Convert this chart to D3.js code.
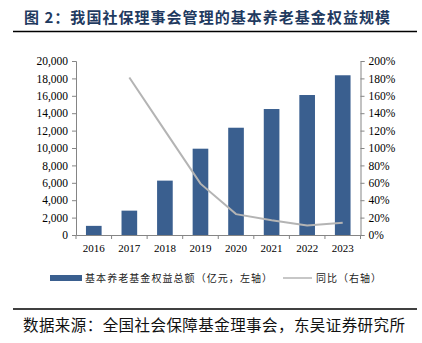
<!DOCTYPE html>
<html>
<head>
<meta charset="utf-8">
<script src="https://cdn.jsdelivr.net/npm/d3@7"></script>
<style>
  html, body { margin: 0; padding: 0; background: #fff; }
  svg { display: block; }
</style>
</head>
<body>
<svg id="chart" width="422" height="343"></svg>
<script>
// Basic pension fund equity managed by the NCSSF (100 million yuan) and YoY growth
const years = ["2016", "2017", "2018", "2019", "2020", "2021", "2022", "2023"];
const equity = [1050, 2800, 6250, 9920, 12330, 14480, 16090, 18360];
const yoyYears = ["2017", "2018", "2019", "2020", "2021", "2022", "2023"];
const yoy = [181, 120, 59, 24, 17, 11, 14];
const leftTicks = [0, 2000, 4000, 6000, 8000, 10000, 12000, 14000, 16000, 18000, 20000];
const rightTicks = [0, 20, 40, 60, 80, 100, 120, 140, 160, 180, 200];

const svg = d3.select("#chart");
const serif = "'Liberation Serif', 'DejaVu Serif', serif";
const cjk = "'Noto Sans CJK SC', sans-serif";
const axisColor = "#858585";
const barColor = "#3A5F8F";
const lineColor = "#B4B4B4";

const plot = { left: 76, right: 360.5, top: 61, bottom: 235 };

const x = d3.scaleBand().domain(years).range([plot.left, plot.right]).paddingInner(0.56).paddingOuter(0.28);
const yL = d3.scaleLinear().domain([0, 20000]).range([plot.bottom, plot.top]);
const yR = d3.scaleLinear().domain([0, 200]).range([plot.bottom, plot.top]);

// Title
svg.append("text")
  .attr("x", 24).attr("y", 23)
  .attr("font-family", cjk).attr("font-weight", "bold")
  .attr("font-size", 15).attr("fill", "#1F3A5F")
  .attr("textLength", 366).attr("lengthAdjust", "spacing")
  .text("图 2：我国社保理事会管理的基本养老基金权益规模");
svg.append("line").attr("x1", 13).attr("x2", 417).attr("y1", 31.5).attr("y2", 31.5)
  .attr("stroke", "#000").attr("stroke-width", 1.5);

// Bars
svg.append("g").selectAll("rect").data(years).join("rect")
  .attr("x", d => x(d))
  .attr("width", x.bandwidth())
  .attr("y", (d, i) => yL(equity[i]))
  .attr("height", (d, i) => yL(0) - yL(equity[i]))
  .attr("fill", barColor);

// YoY line
const line = d3.line()
  .x((d, i) => x(yoyYears[i]) + x.bandwidth() / 2)
  .y(d => yR(d));
svg.append("path").datum(yoy)
  .attr("d", line)
  .attr("fill", "none").attr("stroke", lineColor).attr("stroke-width", 2);

// Axes
function styleAxis(g) {
  g.selectAll(".domain").attr("stroke", axisColor);
  g.selectAll(".tick line").attr("stroke", axisColor);
  g.selectAll(".tick text").attr("font-family", serif).attr("fill", "#000");
}

const fmt = d3.format(",");
svg.append("g").attr("transform", `translate(${plot.left},0)`)
  .call(d3.axisLeft(yL).tickValues(leftTicks).tickFormat(fmt).tickSize(4).tickSizeOuter(4).tickPadding(4))
  .call(styleAxis)
  .call(g => g.selectAll(".tick text").attr("font-size", 11.5));

svg.append("g").attr("transform", `translate(${plot.right},0)`)
  .call(d3.axisRight(yR).tickValues(rightTicks).tickFormat(d => d + "%").tickSize(4).tickSizeOuter(4).tickPadding(4))
  .call(styleAxis)
  .call(g => g.selectAll(".tick text").attr("font-size", 11.5));

const xAxis = svg.append("g").attr("transform", `translate(0,${plot.bottom})`)
  .call(d3.axisBottom(x).tickSize(0).tickSizeOuter(0).tickPadding(9))
  .call(styleAxis)
  .call(g => g.selectAll(".tick text").attr("font-size", 11));
// category boundary ticks
const bounds = d3.range(years.length + 1).map(i => plot.left + i * (plot.right - plot.left) / years.length);
xAxis.selectAll(".bound").data(bounds).join("line")
  .attr("class", "bound")
  .attr("x1", d => d).attr("x2", d => d).attr("y1", 0).attr("y2", 4)
  .attr("stroke", axisColor);

// Legend
const lg = svg.append("g");
lg.append("rect").attr("x", 50).attr("y", 275).attr("width", 32).attr("height", 6).attr("fill", barColor);
lg.append("text").attr("x", 85).attr("y", 281.5)
  .attr("font-family", cjk).attr("font-size", 10).attr("fill", "#222")
  .attr("textLength", 187).attr("lengthAdjust", "spacing")
  .text("基本养老基金权益总额（亿元，左轴）");
lg.append("line").attr("x1", 283).attr("x2", 312).attr("y1", 278).attr("y2", 278)
  .attr("stroke", lineColor).attr("stroke-width", 1.5);
lg.append("text").attr("x", 316).attr("y", 281.5)
  .attr("font-family", cjk).attr("font-size", 10).attr("fill", "#222")
  .attr("textLength", 65).attr("lengthAdjust", "spacing")
  .text("同比（右轴）");

// Source
svg.append("line").attr("x1", 13).attr("x2", 417).attr("y1", 309).attr("y2", 309)
  .attr("stroke", "#000").attr("stroke-width", 1.5);
svg.append("text").attr("x", 23).attr("y", 331)
  .attr("font-family", cjk).attr("font-size", 15.5).attr("fill", "#111")
  .attr("textLength", 382).attr("lengthAdjust", "spacing")
  .text("数据来源：全国社会保障基金理事会，东吴证券研究所");
</script>
</body>
</html>
